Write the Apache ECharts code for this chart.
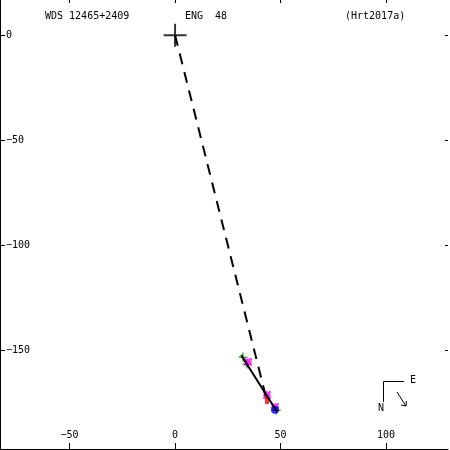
<!DOCTYPE html>
<html>
<head>
<meta charset="utf-8">
<script src="https://cdn.jsdelivr.net/npm/echarts@6/dist/echarts.min.js"></script>
<style>html,body{margin:0;padding:0;background:#fff}#c{width:450px;height:450px}</style>
</head>
<body>
<div id="c"></div>
<script>
// ---- data ----
var titleLeft = 'WDS 12465+2409';
var titleMid = 'ENG  48';
var titleRight = '(Hrt2017a)';
var xTickValues = [-50, 0, 50, 100];
var yTickValues = [0, -50, -100, -150];
var xRange = [-83, 129.4];
var yRange = [-196.7, 16.7];
var primary = [[0, 0]];
var dashedLine = [[0, 0], [43.1, -172.0]];
var solidLine = [[31.3, -152.0], [48.4, -179.1]];
var greenPlus = [[32.2, -153.0], [34.1, -156.3], [47.9, -178.2]];
var magentaStar = [[34.6, -155.3], [43.6, -171.0], [47.4, -176.7]];
var redMark = [[43.6, -173.4]];
var blueDot = [[47.4, -178.1]];

var FONT = 'DejaVu Sans Mono';
function fmt(v){ return String(v).replace('-', '\u2212'); }

var plusPath = 'path://M0,10.5H23V12.5H0Z M10.5,0H12.5V23H10.5Z';
var smallPlus = 'path://M0,4H9V5.5H0Z M3.75,0H5.25V9H3.75Z';
var starPath = 'path://M0,3.25H8V4.75H0Z M3.25,0H4.75V8H3.25Z M0.7,0L1.6,0L8,6.4L8,7.3L7.3,8L6.4,8L0,1.6L0,0.7Z M6.4,0L7.3,0L8,0.7L8,1.6L1.6,8L0.7,8L0,7.3L0,6.4Z';

var chart = echarts.init(document.getElementById('c'), null, {renderer:'canvas'});
chart.setOption({
  animation: false,
  backgroundColor: '#fff',
  title: [
    {text: titleLeft, left: 45, top: 11, padding: 0, textStyle:{fontFamily:FONT, fontSize:10, fontWeight:'normal', color:'#000'}},
    {text: titleMid, left: 185, top: 11, padding: 0, textStyle:{fontFamily:FONT, fontSize:10, fontWeight:'normal', color:'#000'}},
    {text: titleRight, left: 345, top: 11, padding: 0, textStyle:{fontFamily:FONT, fontSize:10, fontWeight:'normal', color:'#000'}}
  ],
  grid: {left: 0, top: 0, right: 2, bottom: 1, containLabel: false},
  xAxis: [
    {type:'value', position:'bottom', min:xRange[0], max:xRange[1],
     axisLine:{show:true, onZero:false, lineStyle:{color:'#000', width:1}},
     axisTick:{show:true, inside:true, length:6, customValues:xTickValues, lineStyle:{color:'#000'}},
     axisLabel:{show:true, inside:true, margin:9, customValues:xTickValues, formatter:fmt, fontFamily:FONT, fontSize:10, color:'#000', showMinLabel:true, showMaxLabel:true},
     splitLine:{show:false}},
    {type:'value', position:'top', min:xRange[0], max:xRange[1],
     axisLine:{show:false, onZero:false},
     axisTick:{show:true, inside:true, length:3, customValues:xTickValues, lineStyle:{color:'#000'}},
     axisLabel:{show:false}, splitLine:{show:false}}
  ],
  yAxis: [
    {type:'value', position:'left', min:yRange[0], max:yRange[1],
     axisLine:{show:true, onZero:false, lineStyle:{color:'#000', width:1}},
     axisTick:{show:true, inside:true, length:5, customValues:yTickValues, lineStyle:{color:'#000'}},
     axisLabel:{show:true, inside:true, margin:6, customValues:yTickValues, formatter:fmt, fontFamily:FONT, fontSize:10, color:'#000', showMinLabel:true, showMaxLabel:true},
     splitLine:{show:false}},
    {type:'value', position:'right', min:yRange[0], max:yRange[1],
     axisLine:{show:false, onZero:false},
     axisTick:{show:true, inside:true, length:3, customValues:yTickValues, lineStyle:{color:'#000'}},
     axisLabel:{show:false}, splitLine:{show:false}}
  ],
  series: [
    {type:'line', data:dashedLine, symbol:'none', silent:true,
     lineStyle:{color:'#000', width:2, type:[11,8]}},
    {type:'line', data:solidLine, symbol:'none', silent:true,
     lineStyle:{color:'#000', width:2}},
    {type:'scatter', data:primary, symbol:plusPath, symbolSize:23, itemStyle:{color:'#000'}},
    {type:'scatter', data:greenPlus, symbol:smallPlus, symbolSize:9, itemStyle:{color:'#00aa00'}},
    {type:'scatter', data:magentaStar, symbol:starPath, symbolSize:8, itemStyle:{color:'#ff00ff'}},
    {type:'scatter', data:redMark, symbol:'rect', symbolSize:[4,8], itemStyle:{color:'#ff0000'}},
    {type:'scatter', data:blueDot, symbol:'circle', symbolSize:8, itemStyle:{color:'#0000ff'}}
  ],
  graphic: [
    {type:'polyline', shape:{points:[[404,381.5],[383.5,381.5],[383.5,402]]}, style:{stroke:'#000', lineWidth:1, fill:null}},
    {type:'text', x:410, y:375, style:{text:'E', fontFamily:FONT, fontSize:10, fill:'#000'}},
    {type:'text', x:378, y:403, style:{text:'N', fontFamily:FONT, fontSize:10, fill:'#000'}},
    {type:'polyline', shape:{points:[[397,392],[406,406]]}, style:{stroke:'#000', lineWidth:1, fill:null}},
    {type:'polyline', shape:{points:[[401,405],[406,406],[406.5,401]]}, style:{stroke:'#000', lineWidth:1, fill:null}}
  ]
});
</script>
</body>
</html>
